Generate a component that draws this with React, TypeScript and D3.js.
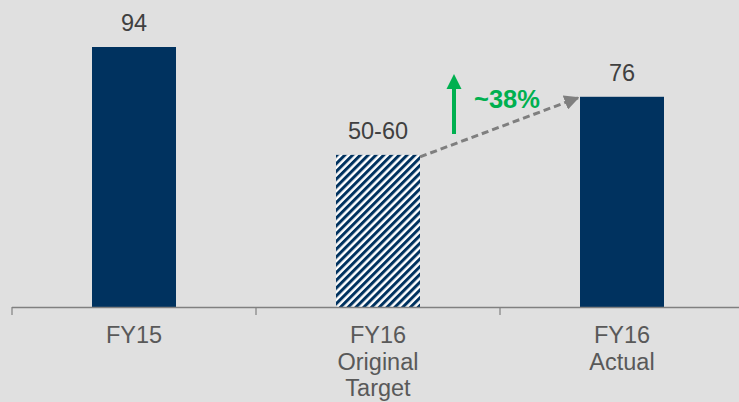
import React from "react";
import * as d3 from "d3";

const categories = ["FY15", "FY16 Original Target", "FY16 Actual"];
const labelLines = [["FY15"], ["FY16", "Original", "Target"], ["FY16", "Actual"]];
const values = [94, 55, 76];
const valueLabels = ["94", "50-60", "76"];
const hatched = [false, true, false];
const changeLabel = "~38%";

const W = 739, H = 402;
const NAVY = "#00325f";

export default function App() {
  const x = d3.scaleBand().domain(categories).range([12, 744]).paddingInner(0).paddingOuter(0);
  const y = d3.scaleLinear().domain([0, 94]).range([307, 47]);
  const bw = 84;
  const cx = (i: number) => (x(categories[i]) as number) + x.bandwidth() / 2;
  const ticks = [0, 1, 2, 3].map((i) => 12 + i * x.bandwidth());

  const x1 = cx(1) + bw / 2, y1 = y(values[1]) + 2;
  const x2 = cx(2) - bw / 2 - 2, y2 = y(values[2]) + 1;
  const arrowX = 454;

  return (
    <div style={{ position: "fixed", left: 0, top: 0 }}>
      <svg width={W} height={H} style={{ display: "block", background: "#e0e0e0" }} fontFamily="Liberation Sans, Arial, sans-serif">
        <defs>
          <pattern id="hatch" width="5.5" height="5.5" patternUnits="userSpaceOnUse" patternTransform="rotate(45)">
            <rect width="5.5" height="5.5" fill="#ffffff" />
            <rect width="3" height="5.5" fill={NAVY} />
          </pattern>
          <marker id="grayHead" viewBox="0 0 10 10" refX="9" refY="5" markerWidth="5" markerHeight="5" orient="auto">
            <path d="M0,0 L10,5 L0,10 z" fill="#7f7f7f" />
          </marker>
        </defs>
        {categories.map((c, i) => (
          <rect key={c} x={cx(i) - bw / 2} y={y(values[i])} width={bw} height={307 - y(values[i])}
            fill={hatched[i] ? "url(#hatch)" : NAVY} />
        ))}
        {categories.map((c, i) => (
          <text key={c + "v"} x={cx(i)} y={y(values[i]) - 16} textAnchor="middle" fontSize={23.5} fill="#404040">{valueLabels[i]}</text>
        ))}
        <line x1={12} x2={739} y1={307.5} y2={307.5} stroke="#808080" strokeWidth={1.5} />
        {ticks.map((t, i) => (
          <line key={i} x1={t} x2={t} y1={307} y2={315} stroke="#808080" strokeWidth={1.2} />
        ))}
        {labelLines.map((lines, i) => (
          <text key={i} textAnchor="middle" fontSize={23.5} fill="#595959">
            {lines.map((l, j) => (
              <tspan key={j} x={cx(i)} y={343 + j * 26.5}>{l}</tspan>
            ))}
          </text>
        ))}
        <line x1={x1} y1={y1} x2={x2} y2={y2} stroke="#7f7f7f" strokeWidth={3} strokeDasharray="7,4" markerEnd="url(#grayHead)" />
        <line x1={arrowX} x2={arrowX} y1={134} y2={88} stroke="#00b050" strokeWidth={4} />
        <path d={`M${arrowX - 7.5},${89} L${arrowX},${74} L${arrowX + 7.5},${89} z`} fill="#00b050" />
        <text x={474} y={108} fontSize={25.5} fontWeight="bold" fill="#00b050">{changeLabel}</text>
      </svg>
    </div>
  );
}
